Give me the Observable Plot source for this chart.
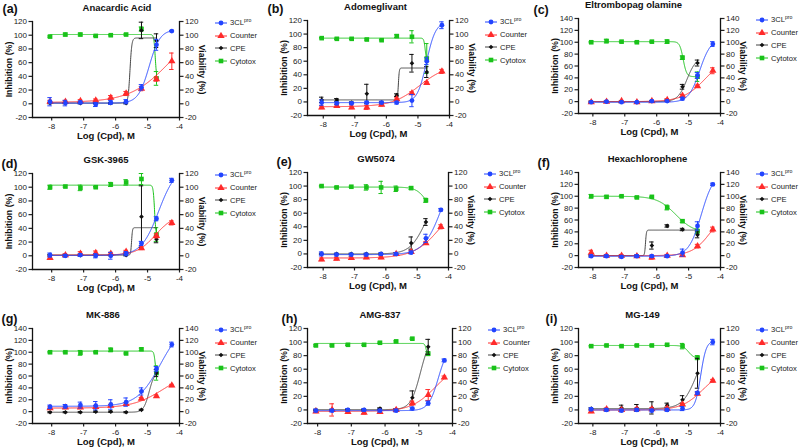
<!DOCTYPE html>
<html><head><meta charset="utf-8">
<script src="https://cdn.jsdelivr.net/npm/d3@7"></script>
<script src="https://cdn.jsdelivr.net/npm/@observablehq/plot@0.6"></script>
<style>
body{margin:0;background:#fff;font-family:"Liberation Sans",Arial,sans-serif;}
#root{position:relative;width:800px;height:448px;overflow:hidden;background:#fff;}
.panel{position:absolute;}
.panel svg{overflow:visible;}
.legend{position:absolute;font-size:7.6px;color:#222;}
.legend .row{height:12.7px;display:flex;align-items:center;white-space:nowrap;}
.legend svg{margin-right:3px;}
.legend sup{font-size:5.2px;vertical-align:3px;line-height:0;}
</style></head><body><div id="root"></div>
<script>
// ---------- data ----------
const logConc = [-8.05, -7.57, -7.10, -6.62, -6.15, -5.67, -5.19, -4.72, -4.24];
const compounds = ["Anacardic Acid","Adomeglivant","Eltrombopag olamine","GSK-3965","GW5074","Hexachlorophene","MK-886","AMG-837","MG-149"];
const panelTags = ["(a)","(b)","(c)","(d)","(e)","(f)","(g)","(h)","(i)"];
const yTop = [120,120,140,120,120,140,140,120,120];
const xTicks = [-8,-7,-6,-5,-4];
const seriesNames = ["3CL","Counter","CPE","Cytotox"];

const val3CL = [
 [3,1,2,-1,2,3,24,86,106],
 [-1,-2,-2,-1,-1,-1,2,60,113],
 [-1,0,-1,-1,1,1,5,44,97],
 [1,0,1,0,0,3,18,54,110],
 [0,-1,-1,-1,0,0,2,23,65],
 [-1,-1,-2,-1,-1,-1,5,50,120],
 [8,9,11,10,12,16,34,72,113],
 [-1,-1,0,0,-1,-1,2,10,73],
 [1,0,-1,0,-1,0,2,25,100]];
const err3CL = [
 [6,4,2,3,3,3,4,8,1],
 [4,2,2,2,2,2,9,5,5],
 [1,1,1,1,1,1,2,5,4],
 [3,2,2,3,5,3,3,3,3],
 [3,2,2,2,2,2,2,6,2],
 [2,2,2,2,2,2,6,7,2],
 [3,3,5,7,8,7,6,4,4],
 [2,2,2,2,2,2,2,3,2],
 [2,2,2,2,2,2,3,2,4]];
const valCounter = [
 [3,3,4,5,9,15,22,36,62],
 [-8,-6,-8,-8,-4,4,13,28,45],
 [-1,0,1,-1,1,3,10,26,52],
 [-3,1,3,4,3,6,11,29,48],
 [-8,-7,-6,-5,-5,0,3,16,40],
 [5,0,0,-1,-3,0,1,16,44],
 [6,7,7,8,10,13,22,26,44],
 [-2,0,-3,-4,-3,0,10,22,48],
 [-2,1,0,1,1,2,8,24,43]];
const errCounter = [
 [2,2,2,2,3,3,3,3,12],
 [2,2,2,3,2,2,2,2,3],
 [2,1,1,1,1,2,2,2,5],
 [2,2,3,3,2,2,2,3,3],
 [2,2,2,2,2,2,2,2,3],
 [4,2,2,2,3,2,2,3,4],
 [2,2,2,2,2,2,2,2,2],
 [2,9,2,2,2,2,3,8,2],
 [2,2,2,2,2,2,2,2,2]];
const valCPE = [
 [1,1,1,1,1,1,107,92],
 [3,3,-1,12,-1,10,57,44],
 [0,0,0,-1,1,2,25,65],
 [1,1,1,1,1,1,57,24],
 [0,0,0,0,0,0,16,47],
 [0,0,0,0,17,50,44,35],
 [-1,-1,-1,0,0,-1,3,65],
 [0,0,0,0,2,1,18,93],
 [2,1,3,3,3,7,15,54]];
const errCPE = [
 [1,1,1,1,1,1,12,10],
 [4,2,1,14,1,2,13,8],
 [1,1,1,1,1,1,4,5],
 [1,1,1,1,1,1,45,5],
 [1,1,1,1,1,2,9,5],
 [1,1,1,1,6,2,2,5],
 [1,1,1,1,1,1,1,6],
 [1,1,1,1,1,1,10,11],
 [1,1,4,5,9,3,6,22]];
const valCytotox = [
 [98,101,101,99,100,101,109,37],
 [94,93,93,92,91,97,96,64],
 [100,102,101,100,101,101,74,42],
 [100,101,99,100,104,107,112,31],
 [100,98,99,98,98,96,97,79],
 [100,99,100,98,99,81,58,41],
 [100,100,99,100,104,98,105,65],
 [95,95,96,96,99,101,105,83],
 [94,95,94,95,95,96,94,77]];
const errCytotox = [
 [1,2,2,1,1,1,3,10],
 [1,1,1,1,1,2,9,22],
 [1,3,1,1,1,3,3,8],
 [3,1,4,1,3,4,8,10],
 [1,1,1,4,9,4,2,3],
 [3,2,1,1,1,4,2,4],
 [1,1,4,1,3,1,2,12],
 [1,1,1,1,1,1,1,3],
 [1,1,1,1,1,1,4,3]];
// fitted 4-parameter curves: [low-dose plateau, high-dose plateau, logEC50, Hill slope]
const fit3CL = [
 [1,108,-4.95,2.55],[-1,118,-4.73,3],[-1,106,-4.65,2.5],
 [0.5,130,-4.65,1.6],[-1,140,-4.2,1.5],[-1,140,-4.6,2.2],
 [9,150,-4.6,1.2],[-1,95,-4.42,3],[0,102,-4.62,5]];
const fitCounter = [
 [2,120,-4.3,0.7],[-7,55,-4.95,1.0],[0,80,-4.45,1.2],
 [1,60,-4.75,1.5],[-6,90,-4.2,1.0],[0,80,-4.3,1.5],
 [6,70,-4.5,0.9],[-2,70,-4.5,1.2],[0,60,-4.55,1.3]];
const fitCPE = [
 [1,96,-5.55,15],[3,50,-5.62,30],[0,75,-5.05,3],
 [1,41,-5.5,30],[0,90,-4.75,1.8],[0,43,-6.35,30],
 [-1,68,-4.95,5],[0.5,110,-4.95,3],[2,100,-4.75,2]];
const fitCytotox = [
 [101,36,-4.76,20],[94,60,-4.77,20],[101,42,-5.17,8],
 [103,28,-4.78,20],[98.5,50,-4.65,2.5],[100,38,-5.4,1.5],
 [102,60,-4.76,20],[98,80,-4.78,20],[95,76,-5.0,5]];

// ---------- layout / style ----------
const frames = [[32,179,21,117],[307,449,20,115],[578,720,18,113],
                [32,179,173,269],[307,448,172,267],[578,720,172,267],
                [32,179,328,423],[307,452,328,423],[578,720,328,423]];
const xLeft = [-8.6,-8.5,-8.45,-8.6,-8.5,-8.45,-8.6,-8.3,-8.45];
const titleDx = [11,-3,-16,0,-2,-2,-3,0,-7];
const tagDx = [-30,-40,-45,-31,-31,-41,-31,-26,-33];
const tagDy = [-13,-12,-9,-10,-11,-10,-10,-10,-10];
const seriesColor = ["#2244ff","#ff2a2a","#111111","#19c219"];
const lineColor = ["#2244ff","#ff2a2a","#444444","#19c219"];
const seriesSymbol = ["circle","triangle","diamond2","square"];
const seriesR = [2.4,2.7,2.1,2.6];
const font = "Liberation Sans, Arial, sans-serif";

const vals = [val3CL, valCounter, valCPE, valCytotox];
const errs = [err3CL, errCounter, errCPE, errCytotox];
const fits = [fit3CL, fitCounter, fitCPE, fitCytotox];

function hill(p, x){ const [lo,hi,ec,h]=p; return lo + (hi-lo)/(1+Math.pow(10,(ec-x)*h)); }

const root = document.getElementById("root");
const mL=52, mR=40, mT=26, mB=32;

for (let i=0;i<9;i++){
  const [L,R,T,B] = frames[i];
  const marks = [];
  const yticks = d3.range(-20, yTop[i]+1, 20);
  // draw order: Cytotox, CPE, Counter, 3CL
  for (const s of [3,2,1,0]){
    const v = vals[s][i], e = errs[s][i];
    const pts = v.map((y,k)=>({x:logConc[k], y, e:e[k]}));
    const x0 = pts[0].x, x1 = pts[pts.length-1].x;
    const curve = d3.range(x0, x1+1e-9, 0.004).concat([x1]).map(x=>({x, y:hill(fits[s][i], x)}));
    marks.push(Plot.line(curve,{x:"x",y:"y",stroke:lineColor[s],strokeWidth:1}));
    marks.push(Plot.ruleX(pts,{x:"x",y1:d=>d.y-d.e,y2:d=>d.y+d.e,stroke:seriesColor[s],strokeWidth:1}));
    marks.push(Plot.ruleY(pts,{y:d=>d.y+d.e,x1:d=>d.x-0.07,x2:d=>d.x+0.07,stroke:seriesColor[s],strokeWidth:1}));
    marks.push(Plot.ruleY(pts,{y:d=>d.y-d.e,x1:d=>d.x-0.07,x2:d=>d.x+0.07,stroke:seriesColor[s],strokeWidth:1}));
    marks.push(Plot.dot(pts,{x:"x",y:"y",symbol:seriesSymbol[s],r:seriesR[s],fill:seriesColor[s],stroke:"none"}));
  }
  const txt = {textAnchor:"middle", lineAnchor:"middle", fontWeight:"bold", fill:"#111"};
  const chart = Plot.plot({
    width: (R-L)+mL+mR, height: (B-T)+mT+mB,
    marginLeft:mL, marginRight:mR, marginTop:mT, marginBottom:mB,
    x:{domain:[xLeft[i], -4]},
    y:{domain:[-20, yTop[i]]},
    style:{fontFamily:font, fontSize:"8px", color:"#222", background:"transparent", overflow:"visible"},
    marks:[
      Plot.axisX({ticks:xTicks, tickSize:3.5, tickPadding:2, tickFormat:d=>String(d), label:null, strokeWidth:1.2}),
      Plot.axisY({anchor:"left", ticks:yticks, tickSize:3.5, tickPadding:2, tickFormat:d=>String(d), label:null, strokeWidth:1.2}),
      Plot.axisY({anchor:"right", ticks:yticks, tickSize:3.5, tickPadding:2, tickFormat:d=>String(d), label:null, strokeWidth:1.2}),
      Plot.frame({anchor:"left", stroke:"#111", strokeWidth:1.3}),
      Plot.frame({anchor:"right", stroke:"#111", strokeWidth:1.3}),
      Plot.frame({anchor:"bottom", stroke:"#111", strokeWidth:1.3}),
      ...marks,
      Plot.text([compounds[i]],{...txt, frameAnchor:"top", dx:titleDx[i], dy:-14, fontSize:9.5}),
      Plot.text([panelTags[i]],{...txt, frameAnchor:"top-left", dx:tagDx[i], dy:tagDy[i], textAnchor:"start", fontSize:12.5}),
      Plot.text(["Log (Cpd), M"],{...txt, frameAnchor:"bottom", dy:18, fontSize:9.5}),
      Plot.text(["Inhibition (%)"],{...txt, frameAnchor:"left", dx:-23, rotate:-90, fontSize:8.8}),
      Plot.text(["Viability (%)"],{...txt, frameAnchor:"right", dx:22, rotate:90, fontSize:8.8})
    ]
  });
  const div = document.createElement("div");
  div.className = "panel";
  div.style.left = (L-mL)+"px";
  div.style.top = (T-mT)+"px";
  div.appendChild(chart);
  root.appendChild(div);

  // legend
  const lg = document.createElement("div");
  lg.className = "legend";
  lg.style.left = (R+36)+"px";
  lg.style.top = (T+2-6.35)+"px";
  const symTypes = {circle:d3.symbolCircle, triangle:d3.symbolTriangle, diamond2:d3.symbolDiamond2, square:d3.symbolSquare};
  seriesNames.forEach((name,s)=>{
    const row = document.createElement("div");
    row.className="row";
    const path = d3.symbol(symTypes[seriesSymbol[s]], Math.PI*seriesR[s]*seriesR[s])();
    row.innerHTML = `<svg width="12" height="8"><line x1="0" x2="12" y1="4" y2="4" stroke="${lineColor[s]}" stroke-width="1"/><path transform="translate(6,4)" d="${path}" fill="${seriesColor[s]}"/></svg>`;
    const span = document.createElement("span");
    if (name==="3CL") span.innerHTML = "3CL<sup>pro</sup>"; else span.textContent = name;
    row.appendChild(span);
    lg.appendChild(row);
  });
  root.appendChild(lg);
}
</script></body></html>
